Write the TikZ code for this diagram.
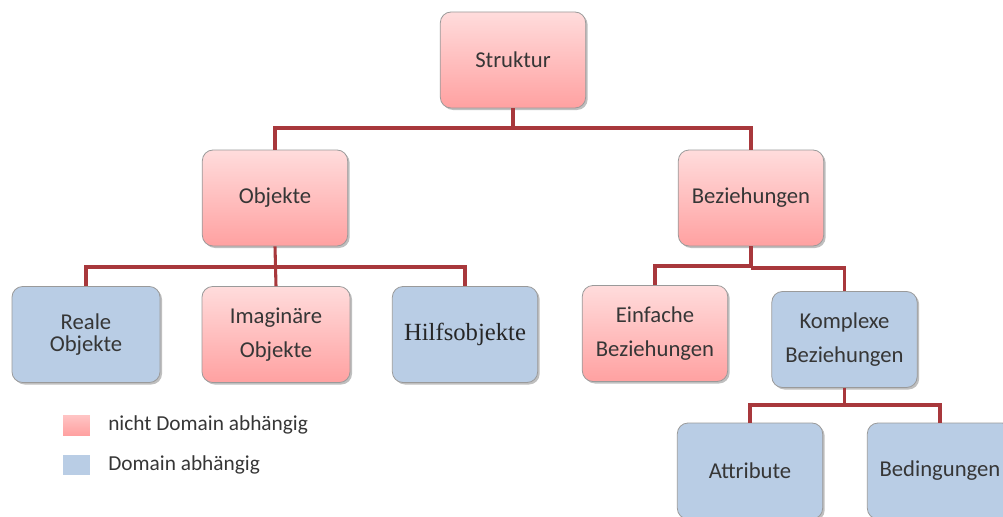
\documentclass[tikz,border=0pt]{standalone}
\usepackage{fontspec}
\setmainfont{Carlito}
\newfontfamily\serifbox{Liberation Serif}
\usetikzlibrary{shadows}
\definecolor{pinktop}{HTML}{FFDCDC}
\definecolor{pinkbot}{HTML}{FFA1A1}
\definecolor{bluebox}{HTML}{B9CDE5}
\definecolor{boxline}{HTML}{9A9A9A}
\definecolor{linkred}{HTML}{A8383C}
\definecolor{txt}{HTML}{363636}
\tikzset{
  box/.style={rectangle, rounded corners=8pt, draw=boxline, line width=0.6pt,
    minimum width=109pt, minimum height=72pt, inner sep=0pt, align=center,
    text=txt, font=\fontsize{17}{19}\selectfont,
    drop shadow={shadow xshift=1.5pt, shadow yshift=-1.5pt, fill=black, opacity=0.25}},
  pinkbox/.style={box, top color=pinktop, bottom color=pinkbot},
  bluebox/.style={box, fill=bluebox},
  conn/.style={draw=linkred, line width=2.3pt},
  legsq/.style={rectangle, minimum width=20pt, minimum height=15pt, inner sep=0pt},
  legtxt/.style={anchor=west, text=txt, font=\fontsize{16}{18}\selectfont, inner sep=0pt}
}
\begin{document}
\begin{tikzpicture}[x=0.75pt, y=-0.75pt]
\useasboundingbox (0,0) rectangle (1003,517);
\begin{scope}
\clip (0,0) rectangle (1003,517);
% boxes
\node[pinkbox] (struktur) at (513,60) {Struktur};
\node[pinkbox] (objekte) at (275,198) {Objekte};
\node[pinkbox] (bezieh) at (751,198) {Beziehungen};
\node[bluebox, minimum width=111pt] (reale) at (86,334.5) {Reale\\[-2pt]Objekte};
\node[pinkbox, minimum width=111pt] (imag) at (276,334.5) {Imaginäre\\[6pt]Objekte};
\node[bluebox] (hilfs) at (465,334.5) {\serifbox\fontsize{18.5}{20}\selectfont\color{black!85}Hilfsobjekte};
\node[pinkbox] (einfach) at (655,333.5) {Einfache\\[6pt]Beziehungen};
\node[bluebox] (komplex) at (844.5,339.5) {Komplexe\\[6pt]Beziehungen};
\node[bluebox] (attr) at (750,471) {Attribute};
\node[bluebox] (beding) at (940,471) {Bedingungen};
% junctions of the connectors
\coordinate (j1) at (513,128);
\coordinate (j2) at (275,267);
\coordinate (j3a) at (751,266);
\coordinate (j3b) at (751,268);
\coordinate (j4) at (844.5,405);
% connectors
\draw[conn] (struktur.south) -- (j1) -| (objekte.north);
\draw[conn] (j1) -| (bezieh.north);
\draw[conn] (objekte.south) -- (imag.north);
\draw[conn] (j2) -| (reale.north);
\draw[conn] (j2) -| (hilfs.north);
\draw[conn] (bezieh.south) -- (j3b);
\draw[conn] (j3a) -| (einfach.north);
\draw[conn] (j3b) -| (komplex.north);
\draw[conn] (komplex.south) -- (j4) -| (attr.north);
\draw[conn] (j4) -| (beding.north);
\end{scope}
% legend
\node[legsq, top color=pinktop!60!pinkbot, bottom color=pinkbot] (lp) at (76.5,425) {};
\node[legtxt] (lpt) at (108,425) {nicht Domain abhängig};
\node[legsq, fill=bluebox] (lb) at (76.5,465) {};
\node[legtxt] (lbt) at (108,465) {Domain abhängig};
\end{tikzpicture}
\end{document}
